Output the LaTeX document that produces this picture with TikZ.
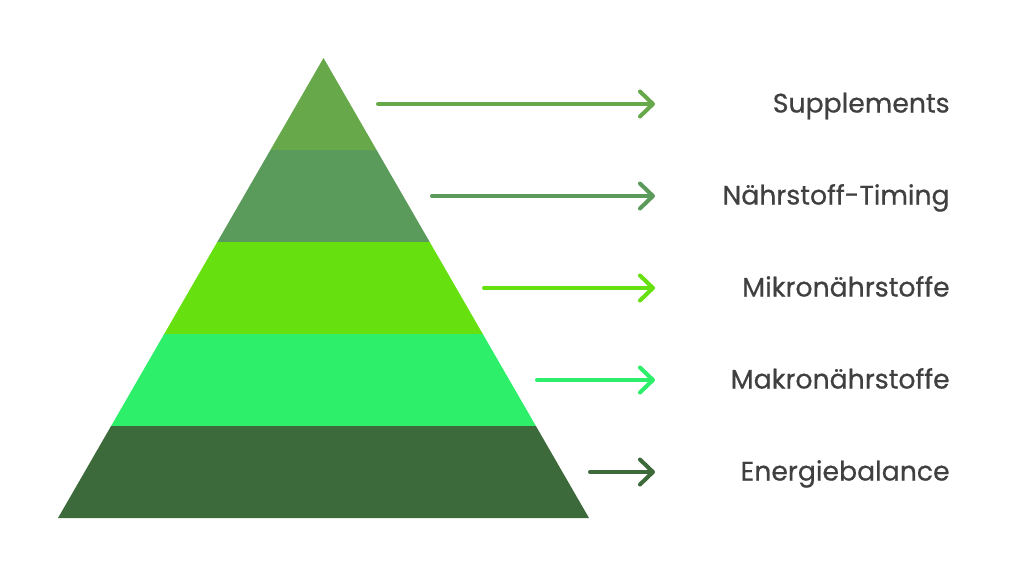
\documentclass[tikz,border=0pt]{standalone}
\usepackage{fontspec}
\setmainfont{Poppins}
\newfontfamily\lblfont{Poppins}[FakeBold=0.6]
\usetikzlibrary{calc,arrows.meta}

\definecolor{lvlA}{HTML}{66A84A}
\definecolor{lvlB}{HTML}{5A9A5A}
\definecolor{lvlC}{HTML}{66E00E}
\definecolor{lvlD}{HTML}{2DEF6A}
\definecolor{lvlE}{HTML}{3D6A3A}
\definecolor{txtgray}{HTML}{404040}

\begin{document}
\begin{tikzpicture}[x=0.02cm,y=-0.02cm]
  \tikzset{ lbl/.style={anchor=base east,text=txtgray,inner sep=0pt,
      font=\lblfont\fontsize{15.2}{18}\selectfont},
    arr/.style={line width=2.3pt,line cap=round,
      -{Straight Barb[round,length=0.26cm,width=0.5cm]}},
  }
  \useasboundingbox (0,0) rectangle (1024,576);

  \coordinate (apex) at (323.5,58);
  \coordinate (bl) at (58,518);
  \coordinate (br) at (589,518);

  % the layers of the pyramid, top to bottom
  \foreach \i/\col/\start/\txt [count=\n from 0] in {
      1/lvlA/378/Supplements,
      2/lvlB/432/Nährstoff-Timing,
      3/lvlC/484/Mikronährstoffe,
      4/lvlD/537/Makronährstoffe,
      5/lvlE/590/Energiebalance}
  {
    \pgfmathsetmacro{\fa}{\n/5}
    \pgfmathsetmacro{\fb}{\i/5}
    \fill[\col] ($(apex)!\fa!(bl)$) -- ($(apex)!\fb!(bl)$)
      -- ($(apex)!\fb!(br)$) -- ($(apex)!\fa!(br)$) -- cycle;
    \pgfmathsetmacro{\ym}{58+92*\n+46}
    \coordinate (from\i) at (\start,\ym);
    \coordinate (to\i) at (655,\ym);
    \draw[arr,\col] (from\i) -- (to\i);
    \node[lbl] (lbl\i) at (950,\ym+8.5) {\txt};
  }
\end{tikzpicture}
\end{document}
